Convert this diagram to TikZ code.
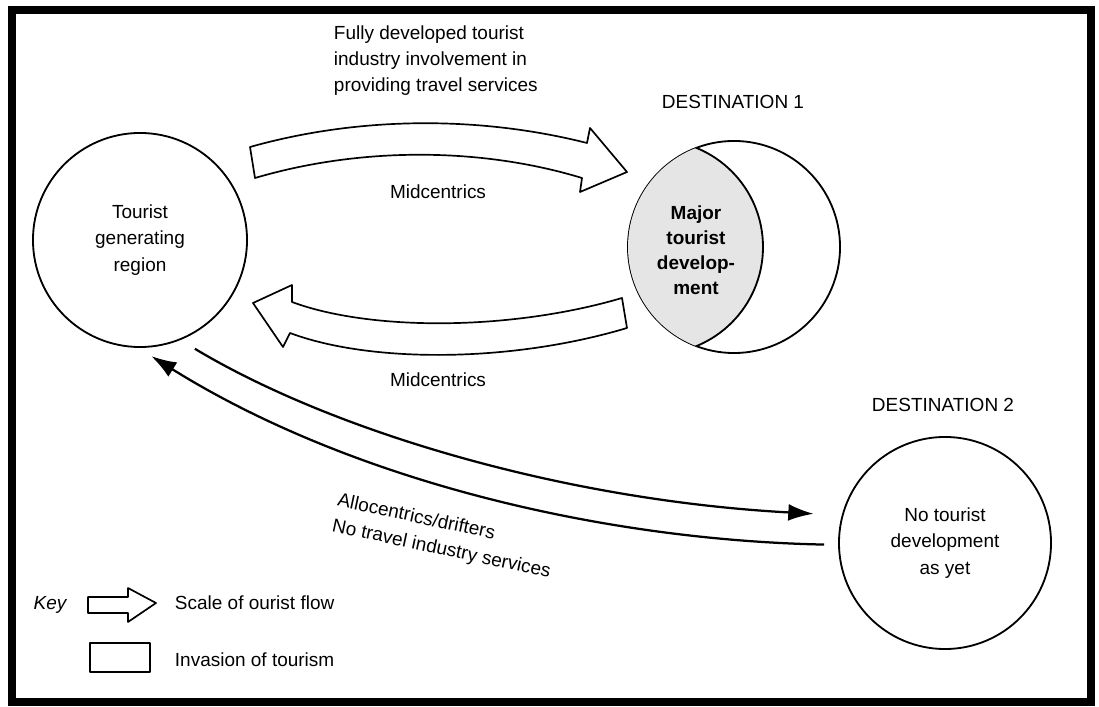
\documentclass[tikz,border=0pt]{standalone}
\usepackage{fontspec}
\setmainfont{Liberation Sans}
\usetikzlibrary{arrows.meta}

\begin{document}
\begin{tikzpicture}[x=0.025cm,y=-0.025cm,
		region/.style={circle,draw,line width=1.3pt,minimum size=5.3cm,align=center,
			font=\fontsize{13.5}{19}\selectfont},
		txt/.style={align=center,font=\fontsize{13.5}{18.5}\selectfont},
		flow/.style={draw,line width=1.2pt,fill=white,line join=round},
		drift/.style={line width=1.6pt,-{Latex[length=18pt,width=12pt]}}]
		\useasboundingbox (0,0) rectangle (1099,707);
		\draw[line width=5.7pt] (12,10) rectangle (1091,702);
		% regions
		\node[region,minimum size=5.35cm] (gen) at (140,240) {Tourist\\generating\\region};
		\node[region] (dest1) at (734,247) {};
		\begin{scope}
			\clip (734,247) circle (106);
			\fill[black!10] (656,247) circle (107);
			\draw[line width=1.3pt] (656,247) circle (107);
		\end{scope}
		\node[txt,font=\fontsize{13.5}{17.7}\selectfont\bfseries] (major) at (696,250) {Major\\tourist\\develop-\\ment};
		\node[region] (dest2) at (945,543) {No tourist\\development\\as yet};
		\node[txt] (d1name) at (733,102) {DESTINATION 1};
		\node[txt] (d2name) at (943,405) {DESTINATION 2};
		% flows
		\draw[flow] (250,147) .. controls (360,116) and (480,116) .. (587,143) -- (590,128) -- (627,172)
			-- (580,192) -- (582,178) .. controls (480,147) and (360,147) .. (255,178) -- cycle;
		\draw[flow] (622,298) .. controls (510,331) and (370,331) .. (292,302) -- (292,285) -- (253,303)
			-- (283,347) -- (290,333) .. controls (370,363) and (510,363) .. (627,328) -- cycle;
		\node[txt,align=left,anchor=west] (industry) at (329,61) {Fully developed tourist\\industry involvement in\\providing travel services};
		\node[txt] (midout) at (438,192) {Midcentrics};
		\node[txt] (midback) at (438,380) {Midcentrics};
		% drifters
		\draw[drift,shorten <=12pt,shorten >=20pt] (gen.-68.5) .. controls (330,430) and (560,500) .. (dest2.165);
		\draw[drift,shorten <=10pt,shorten >=11pt] (dest2.181) .. controls (600,540) and (350,480) .. (gen.-91.4);
		\node[txt,align=left,rotate=-12] (allo) at (444,537) {Allocentrics/drifters\\No travel industry services};
		% key
		\node[txt,font=\fontsize{13.5}{18}\selectfont\itshape] (key) at (50,605) {Key};
		\draw[flow] (88,597) -- (128,597) -- (128,588) -- (156,603) -- (128,622) -- (128,613) -- (88,613) -- cycle;
		\draw[flow] (90,643) rectangle (150,672);
		\node[txt,anchor=west] (keyflow) at (170,603) {Scale of ourist flow};
		\node[txt,anchor=west] (keyinv) at (170,660) {Invasion of tourism};
	\end{tikzpicture}
\end{document}
